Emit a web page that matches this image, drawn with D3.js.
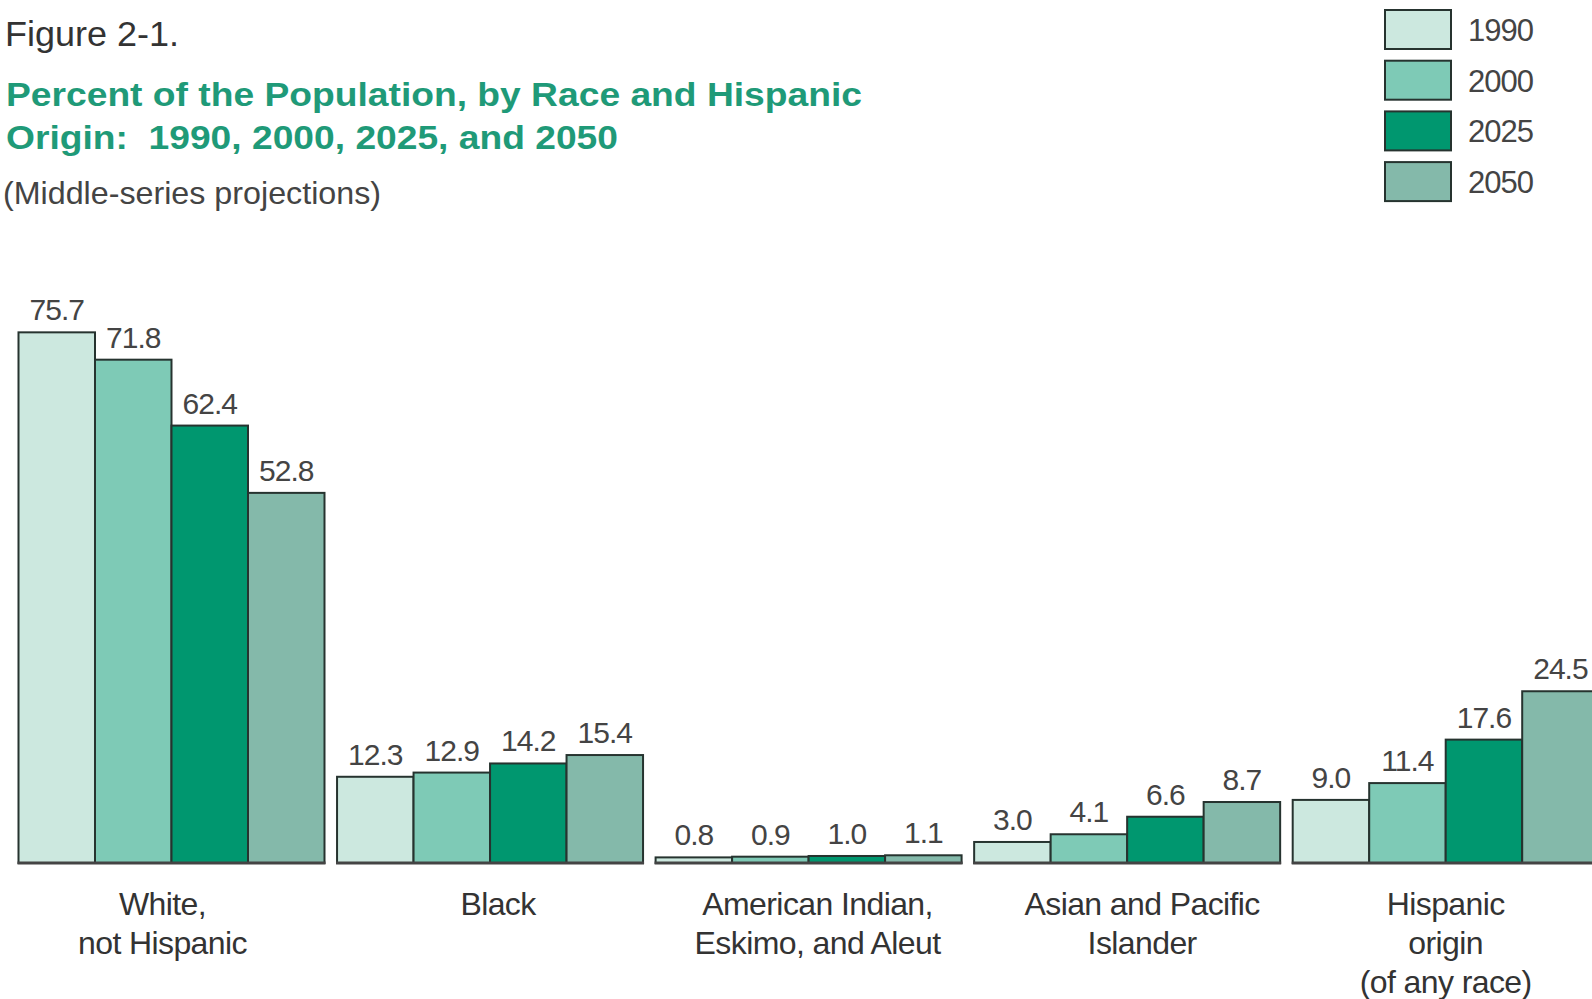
<!DOCTYPE html>
<html>
<head>
<meta charset="utf-8">
<script src="https://cdn.jsdelivr.net/npm/d3@7"></script>
<style>
  html, body { margin: 0; padding: 0; background: #fff; }
  svg { display: block; font-family: "Liberation Sans", Arial, Helvetica, sans-serif; }
</style>
</head>
<body>
<svg id="chart" width="1592" height="999"></svg>
<script>
// ---- data ----
const categories = ["White, not Hispanic", "Black", "American Indian, Eskimo, and Aleut", "Asian and Pacific Islander", "Hispanic origin (of any race)"];
const categoryLines = [
  ["White,", "not Hispanic"],
  ["Black"],
  ["American Indian,", "Eskimo, and Aleut"],
  ["Asian and Pacific", "Islander"],
  ["Hispanic", "origin", "(of any race)"]
];
const years = ["1990", "2000", "2025", "2050"];
const values1990 = [75.7, 12.3, 0.8, 3.0, 9.0];
const values2000 = [71.8, 12.9, 0.9, 4.1, 11.4];
const values2025 = [62.4, 14.2, 1.0, 6.6, 17.6];
const values2050 = [52.8, 15.4, 1.1, 8.7, 24.5];
const seriesValues = [values1990, values2000, values2025, values2050];
const colors = ["#cce8df", "#7ecab6", "#00976f", "#84b9aa"];
const labelNudge = [-9, 8, 9, 15, 0];

const svg = d3.select("#chart");

// ---- scales ----
const baseY = 863;
const y = d3.scaleLinear().domain([0, 80]).range([baseY, baseY - 80 * 7.01]);
const x0 = d3.scaleBand().domain(categories).range([18.5, 1598.7]).paddingInner(0.0394);
const x1 = d3.scaleBand().domain(years).range([0, x0.bandwidth()]).padding(0);

// ---- titles ----
svg.append("text").attr("x", 5).attr("y", 46)
  .attr("font-size", 35).attr("fill", "#333")
  .attr("textLength", 174).attr("lengthAdjust", "spacingAndGlyphs")
  .text("Figure 2-1.");
svg.append("text").attr("x", 6).attr("y", 106)
  .attr("font-size", 34).attr("font-weight", "bold").attr("fill", "#1f9a78")
  .attr("textLength", 856).attr("lengthAdjust", "spacingAndGlyphs")
  .text("Percent of the Population, by Race and Hispanic");
svg.append("text").attr("x", 6).attr("y", 149)
  .attr("font-size", 34).attr("font-weight", "bold").attr("fill", "#1f9a78")
  .attr("textLength", 612).attr("lengthAdjust", "spacingAndGlyphs")
  .attr("xml:space", "preserve")
  .text("Origin:  1990, 2000, 2025, and 2050");
svg.append("text").attr("x", 3).attr("y", 204)
  .attr("font-size", 32).attr("fill", "#444")
  .attr("textLength", 378).attr("lengthAdjust", "spacingAndGlyphs")
  .text("(Middle-series projections)");

// ---- bars ----
const groups = svg.append("g").selectAll("g")
  .data(categories).join("g")
  .attr("transform", d => `translate(${x0(d)},0)`);

groups.each(function(cat, ci) {
  const g = d3.select(this);
  const data = years.map((yr, si) => ({ yr, si, v: seriesValues[si][ci] }));
  g.selectAll("rect").data(data).join("rect")
    .attr("x", d => x1(d.yr))
    .attr("y", d => y(d.v))
    .attr("width", x1.bandwidth())
    .attr("height", d => y(0) - y(d.v))
    .attr("fill", d => colors[d.si])
    .attr("stroke", "#26332f")
    .attr("stroke-width", 2);
  g.append("line")
    .attr("x1", -1).attr("x2", x0.bandwidth() + 1)
    .attr("y1", y(0)).attr("y2", y(0))
    .attr("stroke", "#444").attr("stroke-width", 3);
  g.selectAll("text.val").data(data).join("text")
    .attr("class", "val")
    .attr("x", d => x1(d.yr) + x1.bandwidth() / 2)
    .attr("y", d => y(d.v) - 12)
    .attr("text-anchor", "middle")
    .attr("font-size", 30).attr("fill", "#444")
    .attr("letter-spacing", -1)
    .text(d => d.v.toFixed(1));
  const lab = g.append("text")
    .attr("text-anchor", "middle")
    .attr("font-size", 32).attr("fill", "#333")
    .attr("letter-spacing", -0.6);
  categoryLines[ci].forEach((ln, li) => {
    lab.append("tspan")
      .attr("x", x0.bandwidth() / 2 + labelNudge[ci])
      .attr("y", 915 + li * 39)
      .text(ln);
  });
});

// ---- legend ----
const legend = svg.append("g").selectAll("g").data(years).join("g")
  .attr("transform", (d, i) => `translate(1385, ${10 + i * 50.7})`);
legend.append("rect")
  .attr("width", 66).attr("height", 39)
  .attr("fill", (d, i) => colors[i])
  .attr("stroke", "#26332f").attr("stroke-width", 2);
legend.append("text")
  .attr("x", 83).attr("y", 31)
  .attr("font-size", 31).attr("fill", "#444")
  .attr("letter-spacing", -1)
  .text(d => d);
</script>
</body>
</html>
